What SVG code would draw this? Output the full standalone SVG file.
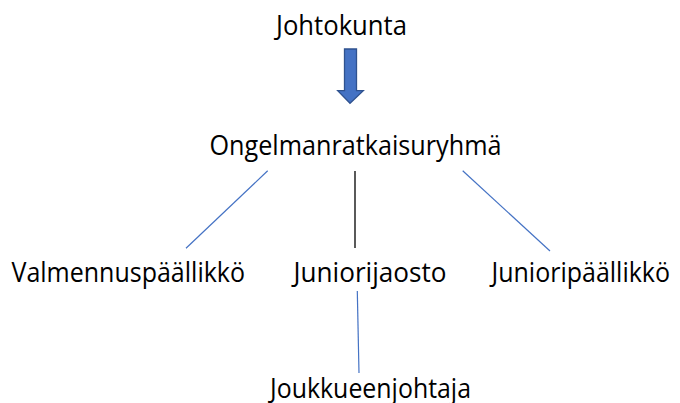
<svg xmlns="http://www.w3.org/2000/svg" width="680" height="403" viewBox="0 0 680 403">
<style>
.t{font-family:"Open Sans","Liberation Sans",sans-serif;font-size:27px;fill:#000}
.b{stroke:#4472C4;stroke-width:1.2;fill:none}
.k{stroke:#000;stroke-width:1.3;fill:none}
</style>
<rect width="680" height="403" fill="#fff"/>
<g id="connectors">
<path class="b" d="M267.7,170.7 L186,248.3"/>
<path class="k" d="M355,171 L355,248"/>
<path class="b" d="M462.7,170.7 L550,251"/>
<path class="b" d="M357.3,291 L359,373"/>
<g id="arrow"><path d="M344.5,49 H356.5 V90.7 H363.3 L350,103.3 L337.7,90.7 H344.5 Z" fill="#4472C4" stroke="#2F528F" stroke-width="1.3"/></g>
</g>
<g id="johtokunta"><text class="t" x="276" y="35" textLength="131" lengthAdjust="spacingAndGlyphs">Johtokunta</text></g>
<g id="ongelmanratkaisuryhma"><text class="t" x="209.5" y="155" textLength="292" lengthAdjust="spacingAndGlyphs">Ongelmanratkaisuryhmä</text></g>
<g id="valmennuspaallikko"><text class="t" x="11.5" y="281.5" textLength="233.5" lengthAdjust="spacingAndGlyphs">Valmennuspäällikkö</text></g>
<g id="juniorijaosto"><text class="t" x="293.5" y="281.5" textLength="153" lengthAdjust="spacingAndGlyphs">Juniorijaosto</text></g>
<g id="junioripaallikko"><text class="t" x="491.5" y="281.5" textLength="178.5" lengthAdjust="spacingAndGlyphs">Junioripäällikkö</text></g>
<g id="joukkueenjohtaja"><text class="t" x="270" y="398" textLength="201" lengthAdjust="spacingAndGlyphs">Joukkueenjohtaja</text></g>
</svg>
